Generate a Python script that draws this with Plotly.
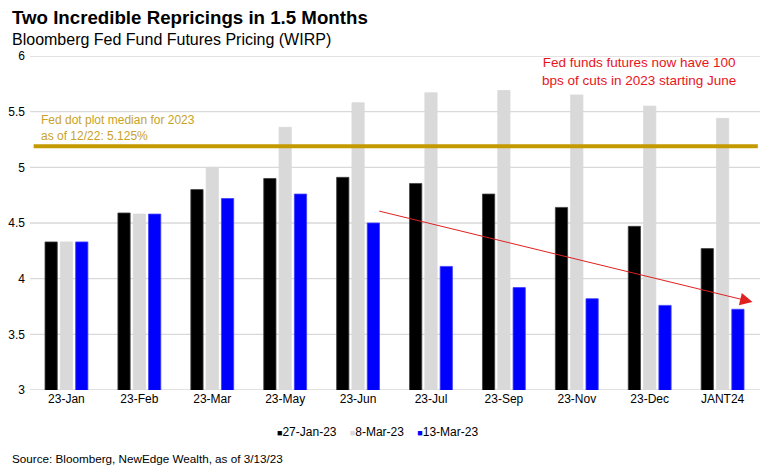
import plotly.graph_objects as go

categories = ["23-Jan", "23-Feb", "23-Mar", "23-May", "23-Jun", "23-Jul", "23-Sep", "23-Nov", "23-Dec", "JANT24"]
jan27 = [4.33, 4.59, 4.80, 4.90, 4.91, 4.855, 4.76, 4.64, 4.47, 4.27]
mar8 = [4.33, 4.58, 5.00, 5.36, 5.58, 5.67, 5.69, 5.65, 5.55, 5.44]
mar13 = [4.33, 4.58, 4.72, 4.76, 4.50, 4.11, 3.92, 3.82, 3.76, 3.725]
series_names = ["27-Jan-23", "8-Mar-23", "13-Mar-23"]
y_ticks = [3, 3.5, 4, 4.5, 5, 5.5, 6]
dot_plot_level = 5.19
arrow_start = (4.27, 4.61)
arrow_end = (9.41, 3.79)

FONT = "Liberation Sans, Arial, sans-serif"

fig = go.Figure()
colors = ["#000000", "#D9D9D9", "#0000FF"]
lines = ["#404040", "#D9D9D9", "#4040FF"]
for name, vals, c, lc in zip(series_names, [jan27, mar8, mar13], colors, lines):
    fig.add_trace(go.Bar(x=categories, y=vals, name=name, showlegend=False,
                         marker=dict(color=c, line=dict(color=lc, width=0.8))))

fig.add_shape(type="line", xref="paper", yref="y", x0=0.005, x1=0.997, y0=dot_plot_level, y1=dot_plot_level,
              line=dict(color="#C49A00", width=4))

fig.add_annotation(x=arrow_end[0], y=arrow_end[1], ax=arrow_start[0], ay=arrow_start[1],
                   xref="x", yref="y", axref="x", ayref="y", showarrow=True,
                   arrowhead=2, arrowsize=2.5, arrowwidth=1, arrowcolor="#E02020", text="")

fig.add_annotation(xref="paper", yref="paper", x=0.834, y=0.955, xanchor="center", yanchor="middle",
                   text="Fed funds futures now have 100<br>bps of cuts in 2023 starting June",
                   showarrow=False, font=dict(family=FONT, size=13.5, color="#E8141C"), align="center")

fig.add_annotation(xref="paper", yref="paper", x=0.013, y=0.783, xanchor="left", yanchor="middle",
                   text="Fed dot plot median for 2023<br>as of 12/22: 5.125%",
                   showarrow=False, font=dict(family=FONT, size=12, color="#C9A227"), align="left")

fig.add_annotation(xref="paper", yref="paper", x=-0.0274, y=1.114, xanchor="left", yanchor="middle",
                   text="<b>Two Incredible Repricings in 1.5 Months</b>",
                   showarrow=False, font=dict(family=FONT, size=18.7, color="#000000"))
fig.add_annotation(xref="paper", yref="paper", x=-0.0274, y=1.048, xanchor="left", yanchor="middle",
                   text="Bloomberg Fed Fund Futures Pricing (WIRP)",
                   showarrow=False, font=dict(family=FONT, size=16, color="#000000"))
fig.add_annotation(xref="paper", yref="paper", x=-0.0274, y=-0.204, xanchor="left", yanchor="middle",
                   text="Source: Bloomberg, NewEdge Wealth, as of 3/13/23",
                   showarrow=False, font=dict(family=FONT, size=11.7, color="#000000"))

legend_parts = []
for name, c in zip(series_names, colors):
    legend_parts.append(f"<span style='color:{c};font-size:9px'>■</span>{name}")
fig.add_annotation(xref="paper", yref="paper", x=0.476, y=-0.126, xanchor="center", yanchor="middle",
                   text="&nbsp;&nbsp;&nbsp;&nbsp;".join(legend_parts),
                   showarrow=False, font=dict(family=FONT, size=12, color="#000000"))

# horizontal gridlines drawn below the bars
for t in y_ticks:
    fig.add_shape(type="line", xref="paper", yref="y", x0=0, x1=1, y0=t, y1=t,
                  line=dict(color="#D9D9D9", width=1.3), layer="below")

fig.update_layout(
    width=768, height=468,
    margin=dict(l=30, r=8, t=56, b=78),
    paper_bgcolor="white", plot_bgcolor="white",
    barmode="group", bargap=0.37, bargroupgap=0.2,
    font=dict(family=FONT, size=12, color="#000000"),
    showlegend=False,
    xaxis=dict(showgrid=False, showline=False, ticks="", automargin=False,
               tickfont=dict(family=FONT, size=12, color="#000000")),
    yaxis=dict(range=[3, 6], tickvals=y_ticks, ticktext=[f"{t:g}" for t in y_ticks],
               showgrid=False, automargin=False,
               zeroline=False, showline=False, tickfont=dict(family=FONT, size=12, color="#000000"),
               ticklabelstandoff=4),
)

fig.write_html("out.html", config={"displayModeBar": False},
               post_script="document.body.style.margin='0px';document.body.style.padding='0px';")
